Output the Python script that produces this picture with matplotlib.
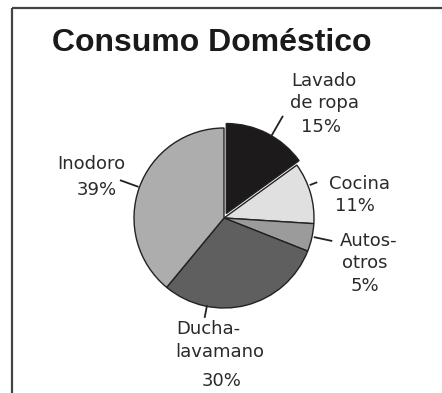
import math
import matplotlib
matplotlib.use("Agg")
import matplotlib.pyplot as plt

# Data
categories = ["Lavado de ropa", "Cocina", "Autos-otros", "Ducha-lavamano", "Inodoro"]
shares = [15, 11, 5, 30, 39]
label_lines = [
    ["Lavado", "de ropa", "15%"],
    ["Cocina", "11%"],
    ["Autos-", "otros", "5%"],
    ["Ducha-", "lavamano", "30%"],
    ["Inodoro", "39%"],
]
colors = ["#1d1a1b", "#e0e0e0", "#9b9b9b", "#5f5f5f", "#adadad"]

W, H = 442, 393
fig = plt.figure(figsize=(W / 100, H / 100), dpi=100)
ax = fig.add_axes([0, 0, 1, 1])

cx, cy, r = 224, H - 218, 90

# explode is in data units here (pixels)
ax.pie(shares, colors=colors, startangle=90, counterclock=False,
       explode=[5, 0, 0, 0, 0], center=(cx, cy), radius=r,
       wedgeprops=dict(edgecolor="#222222", linewidth=1.0), frame=True)
ax.set_xlim(0, W)
ax.set_ylim(0, H)
ax.set_aspect("equal")
ax.axis("off")

# frame of the figure box
ax.plot([12, 12], [0, H - 8], color="#444444", lw=1.6, solid_capstyle="butt")
ax.plot([12, W], [H - 8, H - 8], color="#444444", lw=1.6, solid_capstyle="butt")

ax.text(52, H - 43, "Consumo Doméstico", fontsize=23, fontweight="bold",
        family="Liberation Sans", color="#1a1a1a", va="center", ha="left")

# leader lines: (angle deg, r start, r end)
leaders = [(60, 1.07, 1.3), (21, 1.03, 1.1), (-12, 1.03, 1.22),
           (-101, 1.0, 1.12), (160, 1.02, 1.22)]
for ang, r0, r1 in leaders:
    a = math.radians(ang)
    ax.plot([cx + r * r0 * math.cos(a), cx + r * r1 * math.cos(a)],
            [cy + r * r0 * math.sin(a), cy + r * r1 * math.sin(a)],
            color="#222222", lw=1.3)

# label line positions (x center, y in image px)
label_pos = [
    [(324, 81), (325, 103), (321, 127)],
    [(359, 184), (355, 206)],
    [(369, 241), (365, 263), (365, 286)],
    [(208, 329), (220, 352), (222, 381)],
    [(91, 164), (97, 190)],
]
for lines, pos in zip(label_lines, label_pos):
    for txt, (x, y) in zip(lines, pos):
        ax.text(x, H - y, txt, fontsize=13, family="DejaVu Sans",
                color="#2a2a2a", ha="center", va="center")

fig.savefig("out.png", dpi=100, facecolor="white")
